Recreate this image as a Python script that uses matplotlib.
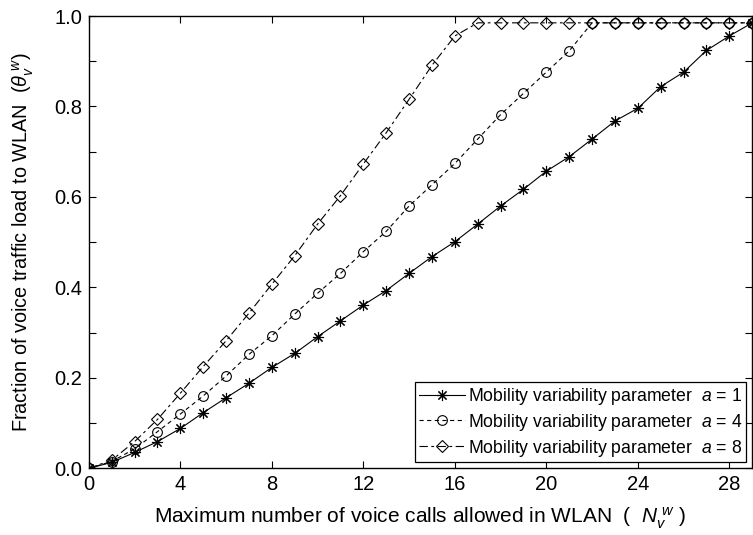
import numpy as np
import matplotlib
matplotlib.use('Agg')
import matplotlib.pyplot as plt
from matplotlib.ticker import MultipleLocator

plt.rcParams['font.family'] = ['Liberation Sans', 'DejaVu Sans']
plt.rcParams['mathtext.fontset'] = 'custom'
plt.rcParams['mathtext.rm'] = 'Liberation Sans'
plt.rcParams['mathtext.it'] = 'Liberation Sans:italic'
plt.rcParams['lines.scale_dashes'] = False

# number of voice calls allowed in WLAN
n_calls = np.arange(0, 30)

# fraction of voice traffic load to WLAN
theta_a1 = [0.0, 0.013, 0.035, 0.059, 0.088, 0.123, 0.156, 0.188, 0.223, 0.254,
            0.291, 0.326, 0.361, 0.393, 0.431, 0.468, 0.501, 0.540, 0.580, 0.617,
            0.657, 0.689, 0.728, 0.768, 0.796, 0.844, 0.876, 0.924, 0.956, 0.985]
theta_a4 = [0.0, 0.015, 0.043, 0.081, 0.120, 0.160, 0.204, 0.252, 0.293, 0.341,
            0.387, 0.431, 0.479, 0.524, 0.580, 0.627, 0.674, 0.728, 0.782, 0.829,
            0.876, 0.923, 0.985, 0.985, 0.985, 0.985, 0.985, 0.985, 0.985, 0.985]
theta_a8 = [0.0, 0.018, 0.059, 0.108, 0.166, 0.225, 0.282, 0.343, 0.407, 0.470,
            0.540, 0.603, 0.673, 0.742, 0.816, 0.891, 0.956, 0.985, 0.985, 0.985,
            0.985, 0.985, 0.985, 0.985, 0.985, 0.985, 0.985, 0.985, 0.985, 0.985]

labels = ['Mobility variability parameter  $a$ = 1',
          'Mobility variability parameter  $a$ = 4',
          'Mobility variability parameter  $a$ = 8']

fig = plt.figure(figsize=(7.53, 5.35), dpi=100)
ax = fig.add_axes([0.118, 0.1247, 0.881, 0.8453])

lw = 0.8
ax.plot(n_calls, theta_a1, color='black', lw=lw, linestyle='-',
        marker=(8, 2, 0), markersize=8, markeredgewidth=0.8, label=labels[0])
ax.plot(n_calls, theta_a4, color='black', lw=lw, linestyle=(0, (3.0, 2.5)),
        marker='o', markersize=7, markerfacecolor='none', markeredgewidth=0.8,
        label=labels[1])
ax.plot(n_calls, theta_a8, color='black', lw=lw, linestyle=(0, (6.0, 2.5, 2.0, 2.5)),
        marker='D', markersize=6, markerfacecolor='none', markeredgewidth=0.8,
        label=labels[2])

ax.set_xlim(0, 29)
ax.set_ylim(0, 1.0)
ax.xaxis.set_major_locator(MultipleLocator(4))
ax.yaxis.set_major_locator(MultipleLocator(0.2))
ax.yaxis.set_minor_locator(MultipleLocator(0.1))
ax.yaxis.set_major_formatter(plt.FormatStrFormatter('%.1f'))
ax.tick_params(which='both', direction='in', top=True, right=True,
               length=5, width=0.8, labelsize=14.5, pad=5)

for sp in ax.spines.values():
    sp.set_linewidth(1.0)

ax.set_xlabel('Maximum number of voice calls allowed in WLAN  (  $N_v^{\\ w}$ )',
              fontsize=15, labelpad=8)
ax.set_ylabel('Fraction of voice traffic load to WLAN  ($\\theta_v^{\\ w}$)',
              fontsize=14.3, labelpad=13)

leg = ax.legend(loc='lower right', fontsize=12.7, handlelength=2.6,
                handletextpad=0.2, labelspacing=0.28, borderpad=0.2,
                borderaxespad=0.35, fancybox=False, framealpha=1)
leg.get_frame().set_edgecolor('black')
leg.get_frame().set_linewidth(0.9)

fig.savefig('out.png', dpi=100)
